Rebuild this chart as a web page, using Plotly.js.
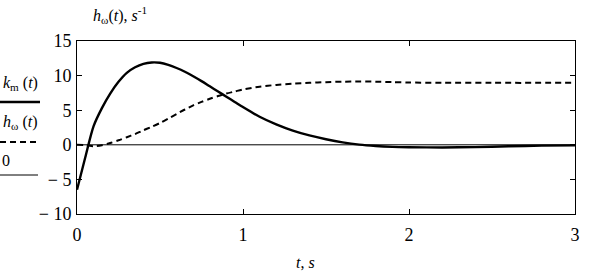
<!DOCTYPE html>
<html>
<head>
<meta charset="utf-8">
<script src="https://cdn.plot.ly/plotly-3.0.1.min.js"></script>
<style>html,body{margin:0;padding:0;background:#fff;}#chart{width:592px;height:271px;}</style>
</head>
<body>
<div id="chart"></div>
<script>
// time values, s
const tK = [0, 0.05, 0.1, 0.15, 0.2, 0.25, 0.3, 0.35, 0.4, 0.45, 0.5, 0.55, 0.6, 0.65, 0.7, 0.75, 0.8, 0.85, 0.9, 0.95, 1.0, 1.1, 1.2, 1.3, 1.4, 1.5, 1.6, 1.7, 1.8, 1.9, 2.0, 2.2, 2.4, 2.6, 2.8, 3.0];
const kVals = [-6.5, -1.8, 2.7, 5.3, 7.4, 9.1, 10.4, 11.2, 11.7, 11.9, 11.85, 11.55, 11.1, 10.55, 9.9, 9.2, 8.45, 7.7, 6.95, 6.2, 5.45, 4.05, 2.95, 2.05, 1.35, 0.8, 0.35, 0.02, -0.18, -0.3, -0.35, -0.38, -0.33, -0.22, -0.12, -0.08];
const tH = [0, 0.05, 0.1, 0.15, 0.2, 0.25, 0.3, 0.35, 0.4, 0.45, 0.5, 0.55, 0.6, 0.65, 0.7, 0.75, 0.8, 0.85, 0.9, 0.95, 1.0, 1.1, 1.2, 1.3, 1.4, 1.5, 1.6, 1.7, 1.8, 1.9, 2.0, 2.2, 2.5, 3.0];
const hVals = [0, -0.05, -0.2, -0.05, 0.25, 0.65, 1.1, 1.55, 2.1, 2.6, 3.15, 3.8, 4.45, 5.1, 5.7, 6.2, 6.65, 7.05, 7.4, 7.7, 8.0, 8.4, 8.65, 8.82, 8.95, 9.05, 9.12, 9.15, 9.12, 9.06, 9.0, 8.96, 8.95, 8.95];
const tZero = [0, 3];
const zeroVals = [0, 0];
const yTickVals = [-10, -5, 0, 5, 10, 15];
const yTickText = ['\u2212 10', '\u2212 5', '0', '5', '10', '15'];
const xTickVals = [0, 1, 2, 3];
const xTickText = ['0', '1', '2', '3'];

const serif = 'Times New Roman, Liberation Serif, DejaVu Serif, serif';

const traces = [
  {x: tZero, y: zeroVals, mode: 'lines', line: {color: '#000', width: 1}, hoverinfo: 'skip'},
  {x: tH, y: hVals, mode: 'lines', line: {color: '#000', width: 2, dash: '6px,4px', shape: 'spline', smoothing: 0.8}},
  {x: tK, y: kVals, mode: 'lines', line: {color: '#000', width: 2.4, shape: 'spline', smoothing: 0.8}}
];

const pxX = px => (px - 77) / 498;
const pxY = py => (214 - py) / 173;

const layout = {
  width: 592, height: 271,
  margin: {l: 77, r: 17, t: 41, b: 57},
  paper_bgcolor: '#fff', plot_bgcolor: '#fff',
  showlegend: false,
  font: {family: serif, size: 18, color: '#000'},
  xaxis: {
    range: [0, 3], tickvals: xTickVals, ticktext: xTickText,
    showgrid: false, zeroline: false,
    showline: true, linecolor: '#000', linewidth: 1, mirror: 'ticks',
    ticks: 'inside', ticklen: 5, tickcolor: '#000', tickwidth: 1,
    ticklabelstandoff: 4,
    tickfont: {family: serif, size: 18, color: '#000'}
  },
  yaxis: {
    range: [-10, 15], tickvals: yTickVals, ticktext: yTickText,
    showgrid: false, zeroline: false,
    showline: true, linecolor: '#000', linewidth: 1, mirror: 'ticks',
    ticks: 'inside', ticklen: 5, tickcolor: '#000', tickwidth: 1,
    ticklabelstandoff: 1,
    tickfont: {family: serif, size: 18, color: '#000'}
  },
  shapes: [
    {type: 'line', xref: 'paper', yref: 'paper', x0: pxX(0), x1: pxX(40), y0: pxY(102), y1: pxY(102), line: {color: '#000', width: 2.4}},
    {type: 'line', xref: 'paper', yref: 'paper', x0: pxX(0), x1: pxX(38), y0: pxY(142), y1: pxY(142), line: {color: '#000', width: 2, dash: '6px,4px'}},
    {type: 'line', xref: 'paper', yref: 'paper', x0: pxX(0), x1: pxX(38), y0: pxY(175), y1: pxY(175), line: {color: '#000', width: 1}}
  ],
  annotations: [
    {xref: 'paper', yref: 'paper', x: pxX(20), y: pxY(83), xanchor: 'center', yanchor: 'middle', showarrow: false,
     text: '<i>k</i><sub>m</sub> (<i>t</i>)', font: {family: serif, size: 16, color: '#000'}},
    {xref: 'paper', yref: 'paper', x: pxX(20), y: pxY(122), xanchor: 'center', yanchor: 'middle', showarrow: false,
     text: '<i>h</i><sub>\u03c9</sub> (<i>t</i>)', font: {family: serif, size: 16, color: '#000'}},
    {xref: 'paper', yref: 'paper', x: pxX(6), y: pxY(160), xanchor: 'center', yanchor: 'middle', showarrow: false,
     text: '0', font: {family: serif, size: 16, color: '#000'}},
    {xref: 'paper', yref: 'paper', x: pxX(120), y: pxY(15), xanchor: 'center', yanchor: 'middle', showarrow: false,
     text: '<i>h</i><sub>\u03c9</sub>(<i>t</i>), <i>s</i><sup>-1</sup>', font: {family: serif, size: 16, color: '#000'}},
    {xref: 'paper', yref: 'paper', x: pxX(305), y: pxY(262), xanchor: 'center', yanchor: 'middle', showarrow: false,
     text: '<i>t</i>, <i>s</i>', font: {family: serif, size: 16, color: '#000'}}
  ]
};

Plotly.newPlot('chart', traces, layout, {displayModeBar: false, staticPlot: true});
</script>
</body>
</html>
